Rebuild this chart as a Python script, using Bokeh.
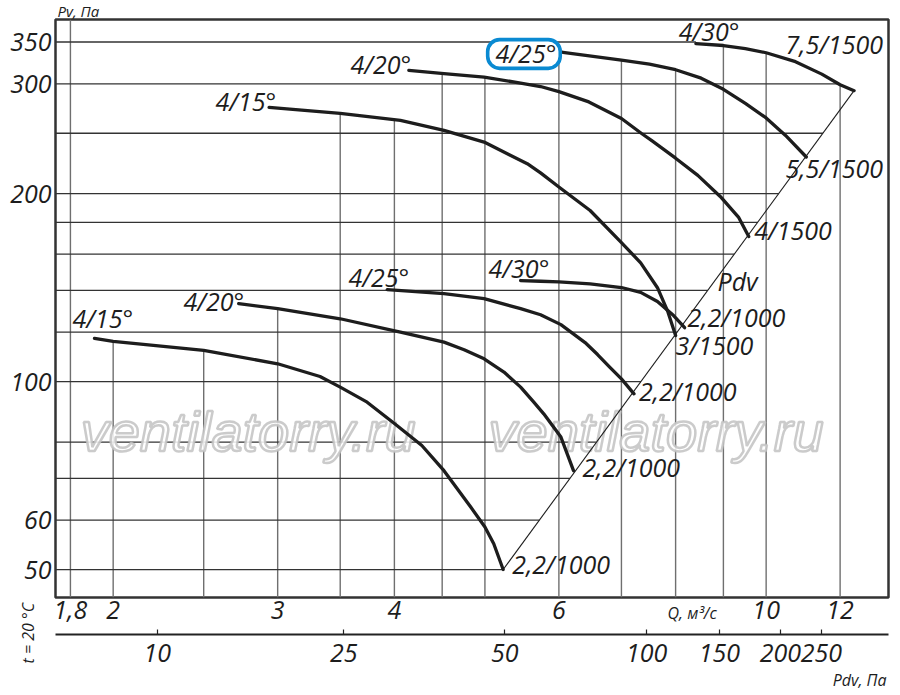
import numpy as np
from bokeh.plotting import figure
from bokeh.models import FixedTicker, LogAxis, Label, BoxAnnotation, Title
from bokeh.core.properties import value
from bokeh.embed import file_html
from bokeh.resources import INLINE

# ---------------- data ----------------
q_ticks = [1.8, 2, 3, 4, 6, 10, 12]
q_tick_labels = ["1,8", "2", "3", "4", "6", "10", "12"]
pv_ticks = [50, 60, 100, 200, 300, 350]
pv_tick_labels = ["50", "60", "100", "200", "300", "350"]
pdv_tick_q = [2.23, 3.53, 5.25, 7.45, 8.91, 10.36, 11.46]
pdv_tick_labels = ["10", "25", "50", "100", "150", "200", "250"]

grid_q = [1.8, 2, 2.5, 3, 3.5, 4, 4.5, 5, 6, 7, 8, 9, 10, 12]
grid_q_top = ["top", "L15", "L15", "L20", "U15", "U15", "U20", "U20",
              "U25", "U25", "U25", "U30", "U30", "U30"]
grid_pv = [50, 60, 70, 80, 100, 120, 140, 160, 180, 200, 250, 300, 350]

# 1000 rpm, 2.2 kW group
l15_q = [1.91, 2.0, 2.5, 3.0, 3.33, 3.5, 3.74, 4.0, 4.28, 4.52, 4.83, 5.0, 5.11, 5.23]
l15_pv = [117.3, 116.0, 112.2, 106.8, 101.9, 98.0, 92.7, 85.7, 79.0, 72.0, 62.9, 58.5, 55.0, 50.0]
l20_q = [2.725, 3.0, 3.5, 4.06, 4.52, 4.75, 4.99, 5.24, 5.46, 5.64, 5.78, 6.03, 6.22]
l20_pv = [133.3, 130.9, 126.1, 120.0, 115.7, 112.5, 108.8, 103.6, 98.0, 92.7, 88.8, 81.5, 72.0]
l25_q = [3.93, 4.52, 4.99, 5.46, 5.735, 6.03, 6.4, 6.6, 6.8, 7.0, 7.22]
l25_pv = [140.4, 138.3, 135.8, 130.9, 128.0, 123.4, 115.5, 110.5, 105.5, 101.0, 95.6]
l30_q = [5.46, 5.735, 6.0, 6.48, 7.0, 7.34, 7.65, 7.96, 8.18]
l30_pv = [145.2, 144.8, 144.5, 143.4, 141.5, 139.0, 134.4, 127.6, 122.0]

# 1500 rpm group
u15_q = [2.937, 3.5, 4.06, 4.52, 4.99, 5.55, 5.735, 6.0, 6.48, 7.0, 7.34, 7.65, 7.85, 8.0]
u15_pv = [275.0, 269.0, 262.1, 252.6, 242.0, 223.4, 216.0, 205.0, 188.0, 167.0, 155.0, 141.4, 129.3, 118.5]
u20_q = [4.145, 4.52, 4.99, 5.46, 5.735, 6.0, 6.46, 7.0, 7.35, 7.55, 8.0, 8.45, 8.93, 9.34, 9.58]
u20_pv = [315.3, 311.4, 307.5, 300.8, 297.0, 291.5, 280.6, 264.0, 250.0, 243.0, 228.0, 214.0, 198.0, 183.5, 170.8]
u25_q = [6.06, 7.0, 7.5, 8.0, 8.52, 9.0, 9.5, 10.0, 10.49, 11.04]
u25_pv = [337.0, 327.5, 322.5, 316.0, 306.3, 294.0, 279.0, 264.5, 248.0, 229.0]
u30_q = [8.41, 9.0, 9.5, 10.0, 10.75, 11.47, 12.0, 12.42]
u30_pv = [348.0, 345.5, 341.5, 336.4, 325.5, 310.9, 298.9, 292.5]

# Pdv system line
pdv_q = [5.23, 12.42]
pdv_pv = [50.0, 292.5]

# ---------------- figure ----------------
X0, X1 = 1.735, 13.52
Y0, Y1 = 45.1, 380.3
PX_PER_DECADE = 624.0
FONT = "Open Sans"
INK = "#1d1d1d"


def lift(pv, px):
    """move a text anchor up by px screen pixels on the log y scale"""
    return pv * 10 ** (px / PX_PER_DECADE)


p = figure(width=900, height=695, x_axis_type="log", y_axis_type="log",
           x_range=(X0, X1), y_range=(Y0, Y1),
           output_backend="svg", toolbar_location=None,
           min_border_left=55, min_border_right=12, min_border_top=19,
           min_border_bottom=98)
p.grid.visible = False
p.outline_line_color = "#333333"
p.outline_line_width = 2.5
p.background_fill_color = "white"
p.border_fill_color = "white"

curves = {"L15": (l15_q, l15_pv), "L20": (l20_q, l20_pv),
          "L25": (l25_q, l25_pv), "L30": (l30_q, l30_pv),
          "U15": (u15_q, u15_pv), "U20": (u20_q, u20_pv),
          "U25": (u25_q, u25_pv), "U30": (u30_q, u30_pv)}


def loglog(x, xs, ys):
    return float(10 ** np.interp(np.log10(x), np.log10(xs), np.log10(ys)))


# vertical grid lines end at the curve that covers them
v_top = [Y1 if k == "top" else loglog(q, *curves[k]) for q, k in zip(grid_q, grid_q_top)]
p.segment(x0=grid_q, y0=[Y0] * len(grid_q), x1=grid_q, y1=v_top,
          line_color="#6f6f6f", line_width=1.4)


# horizontal grid lines end at the envelope (4/30 deg curve + Pdv line)
def env_q(pv):
    if pv <= pdv_pv[-1]:
        return loglog(pv, pdv_pv, pdv_q)
    return loglog(pv, u30_pv[::-1], u30_q[::-1])


h_right = [env_q(v) for v in grid_pv]
p.segment(x0=[X0] * len(grid_pv), y0=grid_pv, x1=h_right, y1=grid_pv,
          line_color="#333333", line_width=1.3)

# watermark
wm_y = lift(79.6, 12)
p.text(x=[1.846, 5.045], y=[wm_y, wm_y], text=["ventilatorry.ru", "ventilatorry.ru"],
       text_font=value("Liberation Sans"), text_font_style="italic",
       text_font_size="56px", text_color="white", text_alpha=0.85,
       text_outline_color="#c2c2c2", text_baseline="alphabetic")

# Pdv line
p.line(pdv_q, pdv_pv, line_color=INK, line_width=1.1)

# curves
for key in ["L15", "L20", "L25", "L30", "U15", "U20", "U25", "U30"]:
    qs, pvs = curves[key]
    p.line(qs, pvs, line_color=INK, line_width=3.3, line_join="round", line_cap="round")

# ---------------- axes ----------------
xa = p.xaxis[0]
xa.ticker = FixedTicker(ticks=q_ticks)
xa.major_label_overrides = dict(zip(q_ticks, q_tick_labels))
ya = p.yaxis[0]
ya.ticker = FixedTicker(ticks=pv_ticks)
ya.major_label_overrides = dict(zip(pv_ticks, pv_tick_labels))

pdv_axis = LogAxis(ticker=FixedTicker(ticks=pdv_tick_q),
                   major_label_overrides=dict(zip(pdv_tick_q, pdv_tick_labels)))
p.add_layout(pdv_axis, "below")

for ax in (xa, ya, pdv_axis):
    ax.major_label_text_font = FONT
    ax.major_label_text_font_style = "italic"
    ax.major_label_text_font_size = "25px"
    ax.major_label_text_color = INK
    ax.minor_tick_line_color = None
    ax.minor_tick_in = 0
    ax.minor_tick_out = 0

for ax in (xa, ya):
    ax.axis_line_color = None
    ax.major_tick_line_color = None
    ax.major_tick_in = 0
    ax.major_tick_out = 0
xa.major_label_standoff = 3
xa.axis_label = " "
xa.axis_label_text_font_size = "9px"
xa.axis_label_standoff = 0
ya.major_label_standoff = 4

pdv_axis.axis_line_color = "#222222"
pdv_axis.axis_line_width = 2.2
pdv_axis.major_tick_line_color = "#222222"
pdv_axis.major_tick_line_width = 1.2
pdv_axis.major_tick_in = 5
pdv_axis.major_tick_out = 0
pdv_axis.major_label_standoff = 9

# ---------------- titles (texts outside the frame) ----------------
tstyle = dict(text_font=FONT, text_font_style="italic", text_color=INK)
p.title.text = "Pv, Па"
p.title.align = "left"
p.title.offset = 2
p.title.standoff = -6
p.title.vertical_align = "top"
p.title.text_font = FONT
p.title.text_font_style = "italic"
p.title.text_font_size = "15px"
p.title.text_color = INK

p.add_layout(Title(text="Pdv, Па", align="right", offset=2, standoff=4,
                   vertical_align="bottom", text_font_size="16px", **tstyle), "below")
p.add_layout(Title(text="Q, м³/с", align="left", offset=612, standoff=-182,
                   vertical_align="top", text_font_size="16px", **tstyle), "below")
p.add_layout(Title(text="t = 20 °C", align="left", offset=-66, standoff=-62,
                   vertical_align="bottom", text_font_size="16px", **tstyle), "left")

# ---------------- annotations inside the frame ----------------
highlight = BoxAnnotation(left=5.034, right=6.02, bottom=317.6, top=353.1,
                          fill_color="white", fill_alpha=1.0,
                          line_color="#0a8ad2", line_alpha=1.0, line_width=3.6,
                          border_radius=12)
p.add_layout(highlight)

curve_labels = [
    ("4/15°", 1.809, 122.1), ("4/20°", 2.378, 130.0), ("4/25°", 3.572, 142.2),
    ("4/30°", 5.045, 147.0), ("4/15°", 2.573, 272.0), ("4/20°", 3.59, 312.5),
    ("4/25°", 5.133, 325.0), ("4/30°", 8.06, 352.3),
    ("7,5/1500", 10.49, 336.0), ("5,5/1500", 10.49, 212.7), ("4/1500", 9.71, 169.4),
    ("Pdv", 8.87, 140.0), ("2,2/1000", 8.24, 122.6), ("3/1500", 8.0, 110.8),
    ("2,2/1000", 7.31, 93.3), ("2,2/1000", 6.36, 70.5), ("2,2/1000", 5.35, 49.3),
]
for txt, qx, py in curve_labels:
    p.add_layout(Label(x=qx, y=lift(py, 9), text=txt, text_font=FONT,
                       text_font_style="italic", text_font_size="25px", text_color=INK,
                       text_align="left", text_baseline="alphabetic"))

open("out.html", "w").write(file_html(p, INLINE))
